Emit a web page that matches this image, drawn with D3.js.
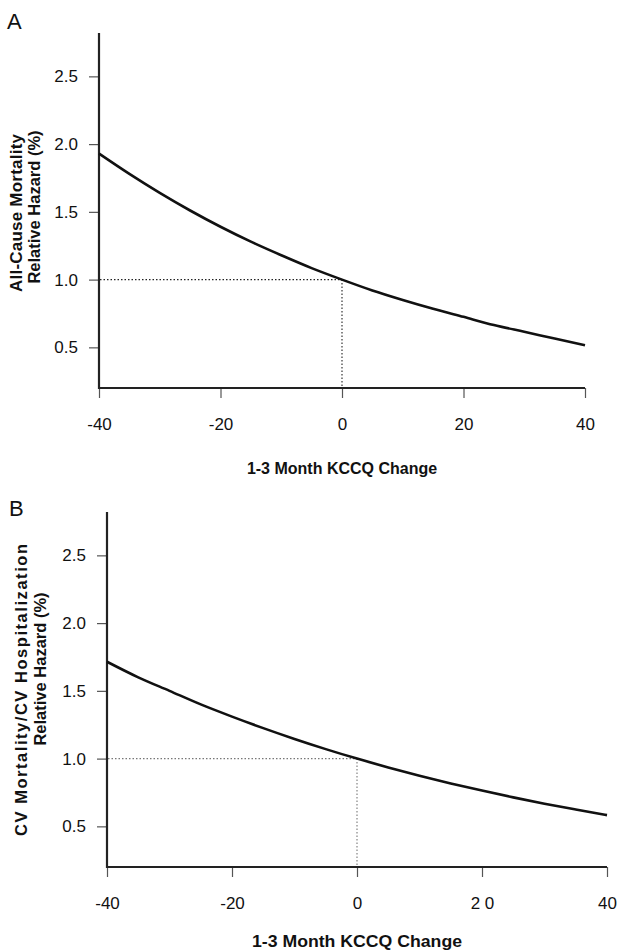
<!DOCTYPE html>
<html>
<head>
<meta charset="utf-8">
<script src="https://cdn.jsdelivr.net/npm/d3@7"></script>
<style>
  html, body { margin: 0; padding: 0; background: #fff; }
  svg { display: block; font-family: "Liberation Sans", Arial, Helvetica, sans-serif; }
</style>
</head>
<body>
<svg id="chart" width="618" height="952"></svg>
<script>
// ---------- data ----------
const kccqChange = [-40, -35, -30, -25, -20, -15, -10, -5, 0, 5, 10, 15, 20, 25, 30, 35, 40];
const hazardAllCause = [1.93, 1.78, 1.64, 1.51, 1.39, 1.28, 1.18, 1.085, 1.0, 0.92, 0.85, 0.785, 0.725, 0.665, 0.615, 0.565, 0.515];
const hazardCV = [1.715, 1.60, 1.50, 1.40, 1.31, 1.225, 1.145, 1.07, 1.0, 0.935, 0.874, 0.817, 0.764, 0.714, 0.667, 0.624, 0.583];
const xTicks = [-40, -20, 0, 20, 40];
const xTickLabelsA = ["-40", "-20", "0", "20", "40"];
const xTickLabelsB = ["-40", "-20", "0", "2 0", "40"];
const yTicks = [0.5, 1.0, 1.5, 2.0, 2.5];
const xDomain = [-40, 40];
const yDomain = [0.2, 2.82];
const refX = 0, refY = 1.0;
const xTitle = "1-3 Month KCCQ Change";

const svg = d3.select("#chart");

function panel(cfg) {
  const g = svg.append("g");
  const x = d3.scaleLinear().domain(xDomain).range([cfg.left, cfg.right]);
  const y = d3.scaleLinear().domain(yDomain).range([cfg.bottom, cfg.top]);

  // panel letter
  g.append("text").attr("x", cfg.letterX).attr("y", cfg.letterY)
    .attr("font-size", 22).attr("fill", "#111").text(cfg.letter);

  // y axis
  const yAxis = d3.axisLeft(y).tickValues(yTicks).tickFormat(d3.format(".1f"))
    .tickSize(10).tickPadding(11);
  const ya = g.append("g").attr("transform", `translate(${cfg.left},0)`).call(yAxis);
  ya.select(".domain").remove();
  ya.selectAll(".tick line").attr("stroke", "#555").attr("stroke-width", 1.2);
  ya.selectAll(".tick text").attr("font-size", 17).attr("fill", "#111")
    .attr("font-family", "Liberation Sans, Arial, sans-serif");

  // x axis
  const xAxis = d3.axisBottom(x).tickValues(xTicks)
    .tickFormat((d, i) => cfg.xLabels[i]).tickSize(10).tickPadding(20);
  const xa = g.append("g").attr("transform", `translate(0,${cfg.bottom})`).call(xAxis);
  xa.select(".domain").remove();
  xa.selectAll(".tick line").attr("stroke", "#555").attr("stroke-width", 1.2);
  xa.selectAll(".tick text").attr("font-size", 17).attr("fill", "#111")
    .attr("font-family", "Liberation Sans, Arial, sans-serif");

  // axis lines
  g.append("line").attr("x1", cfg.left).attr("x2", cfg.left)
    .attr("y1", y(yDomain[1])).attr("y2", y(yDomain[0]) + 1)
    .attr("stroke", "#222").attr("stroke-width", 2.2);
  g.append("line").attr("x1", cfg.left - 1).attr("x2", x(xDomain[1]))
    .attr("y1", y(yDomain[0])).attr("y2", y(yDomain[0]))
    .attr("stroke", "#222").attr("stroke-width", 2.2);

  // reference dotted lines
  g.append("line").attr("x1", cfg.left + 1).attr("x2", x(refX))
    .attr("y1", y(refY)).attr("y2", y(refY))
    .attr("stroke", cfg.dotColor).attr("stroke-width", 1.1).attr("stroke-dasharray", "1.5,2");
  g.append("line").attr("x1", x(refX)).attr("x2", x(refX))
    .attr("y1", y(refY)).attr("y2", y(yDomain[0]) - 1)
    .attr("stroke", cfg.dotColor).attr("stroke-width", 1.1).attr("stroke-dasharray", "1.5,2");

  // curve
  const line = d3.line().x(d => x(d[0])).y(d => y(d[1])).curve(d3.curveMonotoneX);
  g.append("path").datum(kccqChange.map((k, i) => [k, cfg.values[i]]))
    .attr("d", line).attr("fill", "none").attr("stroke", "#111").attr("stroke-width", 2.6);

  // x title
  const xt = g.append("text").attr("x", (cfg.left + cfg.right) / 2).attr("y", cfg.xTitleY)
    .attr("text-anchor", "middle").attr("font-size", cfg.xTitleSize).attr("font-weight", "bold")
    .attr("fill", "#111").text(xTitle);
  if (cfg.xTitleLen) xt.attr("textLength", cfg.xTitleLen).attr("lengthAdjust", "spacingAndGlyphs");

  // y title (two lines)
  cfg.yTitle.forEach((t, i) => {
    const tt = g.append("text")
      .attr("transform", `translate(${cfg.yTitleX[i]},${cfg.yTitleC[i]}) rotate(-90)`)
      .attr("text-anchor", "middle").attr("font-size", cfg.yTitleSize[i]).attr("font-weight", "bold")
      .attr("fill", "#111").text(t);
    if (cfg.yTitleLen[i]) tt.attr("textLength", cfg.yTitleLen[i]).attr("lengthAdjust", "spacing");
  });
}

panel({
  letter: "A", letterX: 7, letterY: 29,
  left: 99, right: 585, top: 33, bottom: 388,
  values: hazardAllCause, xLabels: xTickLabelsA, dotColor: "#222",
  xTitleY: 474, xTitleSize: 16, xTitleLen: null,
  yTitle: ["All-Cause Mortality", "Relative Hazard (%)"],
  yTitleSize: [17, 16.5], yTitleLen: [158, null],
  yTitleX: [22, 40], yTitleC: [213, 207]
});

panel({
  letter: "B", letterX: 9, letterY: 516,
  left: 107, right: 607, top: 512, bottom: 867,
  values: hazardCV, xLabels: xTickLabelsB, dotColor: "#777",
  xTitleY: 947, xTitleSize: 17, xTitleLen: 210,
  yTitle: ["CV Mortality/CV Hospitalization", "Relative Hazard (%)"],
  yTitleSize: [16.5, 16.5], yTitleLen: [292, null],
  yTitleX: [27, 46], yTitleC: [690, 669]
});
</script>
</body>
</html>
